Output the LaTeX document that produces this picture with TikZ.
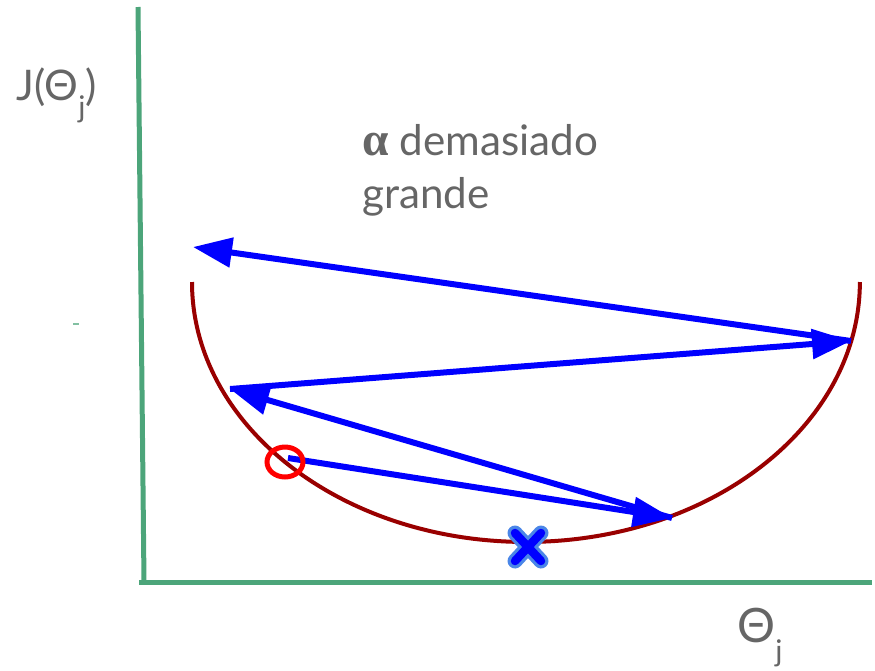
\documentclass[tikz,border=0pt]{standalone}
\usepackage{amsmath, amssymb}
\usepackage{fontspec}
\setmainfont{Lato}
\newfontfamily\alphafont{Liberation Serif}
\usepackage{tikz}
\usetikzlibrary{arrows.meta}

\definecolor{axisgreen}{RGB}{76,165,122}
\definecolor{curvered}{RGB}{153,0,0}
\definecolor{txtgray}{RGB}{102,102,102}
\definecolor{crosslight}{RGB}{74,134,232}

\newcommand{\lowj}{\raisebox{-0.42em}{\fontsize{17}{17}\selectfont j}}

\begin{document}
\begin{tikzpicture}[
    x=0.02cm, y=-0.02cm,
    font=\fontsize{24}{30}\selectfont,
    axis/.style={axisgreen, line width=0.1cm},
    cost/.style={curvered, line width=0.08cm},
    jump/.style={-{Triangle[length=0.78cm, width=0.58cm]}, blue, line width=0.12cm},
    lbl/.style={txtgray, inner sep=0pt}
]
\useasboundingbox (0,0) rectangle (875,670);
% axes
\coordinate (ytop) at (138,7);
\coordinate (orig) at (144,582);
\coordinate (xend) at (872,582);
\draw[axis] (ytop) -- (orig);
\draw[axis] ([xshift=-0.1cm]orig) -- (xend);
\draw[axisgreen!70, line width=0.03cm] (73,324) -- (79,324);
% labels
\node[lbl, anchor=base west] (jlabel) at (16,100) {J(Θ\lowj)};
\node[lbl, anchor=base west, font=\fontsize{27}{30}\selectfont] (thlabel) at (737,642) {Θ\lowj};
\node[lbl, anchor=north west, align=left] (alabel) at (362,124)
    {{\alphafont\bfseries\fontsize{27}{30}\selectfont α} demasiado\\grande};
% cost curve
\draw[cost] (192,282) arc[start angle=180, end angle=360, x radius=6.68cm, y radius=5.2cm];
% minimum
\coordinate (mn) at (528,547);
\foreach \c/\w in {crosslight/0.3cm, blue/0.17cm}
   \draw[\c, line width=\w, line cap=round]
      ([shift={(-13,-14)}]mn) -- ([shift={(13,14)}]mn)
      ([shift={(-13,14)}]mn) -- ([shift={(13,-14)}]mn);
% steps of gradient descent
\coordinate (s0) at (288,458);
\coordinate (s1) at (672,518);
\coordinate (s2) at (230,389);
\coordinate (s3) at (851,341);
\coordinate (s4) at (193,247);
\foreach \a/\b in {s0/s1, s1/s2, s2/s3, s3/s4}
   \draw[jump] (\a) -- (\b);
% start point
\draw[red, line width=0.1cm] (285,462) ellipse[x radius=0.36cm, y radius=0.3cm];
\end{tikzpicture}
\end{document}
